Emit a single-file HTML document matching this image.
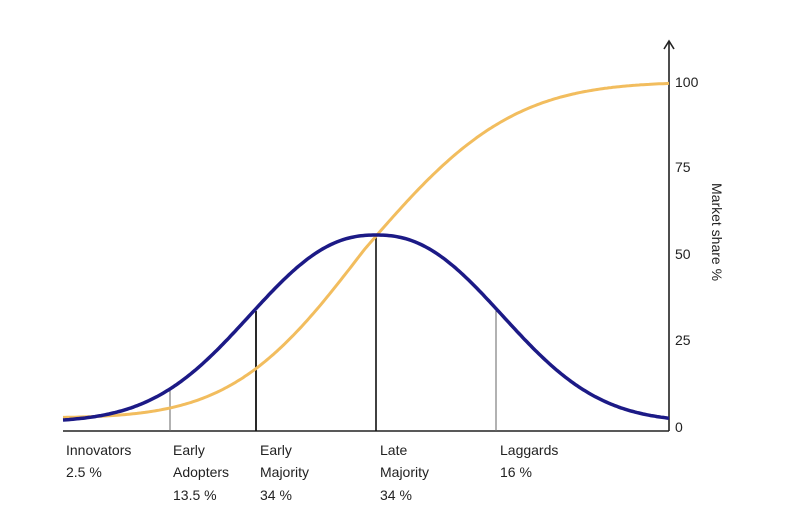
<!DOCTYPE html>
<html><head><meta charset="utf-8"><style>
body{margin:0;background:#fff;width:810px;height:521px;overflow:hidden}
svg text{font-family:"Liberation Sans",sans-serif;font-size:14px;fill:#222}
</style></head><body>
<svg id="s" width="810" height="521" viewBox="0 0 810 521">
<line x1="63" y1="431" x2="669" y2="431" stroke="#222" stroke-width="1.6"/>
<line x1="669" y1="431" x2="669" y2="42" stroke="#222" stroke-width="1.6"/>
<polyline points="664,49 669,41 674,49" fill="none" stroke="#222" stroke-width="1.6"/>
<line x1="170" y1="390" x2="170" y2="431" stroke="#666" stroke-width="1"/>
<line x1="256" y1="311" x2="256" y2="431" stroke="#111" stroke-width="1.8"/>
<line x1="376" y1="235" x2="376" y2="431" stroke="#111" stroke-width="1.6"/>
<line x1="496" y1="311" x2="496" y2="431" stroke="#666" stroke-width="1"/>
<path id="o" fill="none" stroke="#f2bd5e" stroke-width="3"/>
<path id="b" fill="none" stroke="#1c1a86" stroke-width="3.5"/>
<text x="675" y="87">100</text>
<text x="675" y="172">75</text>
<text x="675" y="259">50</text>
<text x="675" y="345">25</text>
<text x="675" y="432">0</text>
<text transform="translate(712,183) rotate(90)">Market share %</text>
<text x="66" y="455">Innovators</text><text x="66" y="477">2.5 %</text>
<text x="173" y="455">Early</text><text x="173" y="477">Adopters</text><text x="173" y="500">13.5 %</text>
<text x="260" y="455">Early</text><text x="260" y="477">Majority</text><text x="260" y="500">34 %</text>
<text x="380" y="455">Late</text><text x="380" y="477">Majority</text><text x="380" y="500">34 %</text>
<text x="500" y="455">Laggards</text><text x="500" y="477">16 %</text>
</svg>
<script>
function erf(x){var s=x<0?-1:1;x=Math.abs(x);var t=1/(1+0.3275911*x);var y=1-(((((1.061405429*t-1.453152027)*t)+1.421413741)*t-0.284496736)*t+0.254829592)*t*Math.exp(-x*x);return s*y;}
var b="",o="";
for(var x=63;x<=669;x+=2){
 var z=Math.abs(x-376)/120;var f=Math.exp(-Math.pow(z,2.3)/2);
 var yb=427-(5+187*f);
 var sg=x<364?103:116;
 var c=0.5*(1+erf((x-364)/sg/Math.SQRT2));var yo=418-336*c;
 b+=(x==63?"M":"L")+x+","+yb.toFixed(1);o+=(x==63?"M":"L")+x+","+yo.toFixed(1);
}
document.getElementById("b").setAttribute("d",b);
document.getElementById("o").setAttribute("d",o);
</script>
</body></html>
